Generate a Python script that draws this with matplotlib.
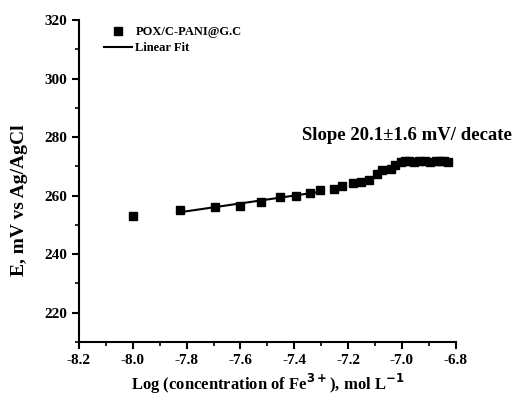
import matplotlib.pyplot as plt
import numpy as np
from matplotlib.ticker import MultipleLocator

# data
log_conc = [-8.00, -7.825, -7.694, -7.602, -7.522, -7.454, -7.393, -7.342, -7.305,
            -7.253, -7.223, -7.183, -7.153, -7.124, -7.094, -7.074, -7.042, -7.024,
            -7.004, -6.990, -6.975, -6.955, -6.935, -6.915, -6.895, -6.875, -6.860,
            -6.845, -6.830]
potential = [252.9, 255.2, 256.0, 256.3, 257.8, 259.5, 260.0, 261.0, 261.9,
             262.3, 263.3, 264.3, 264.7, 265.5, 267.4, 268.8, 269.0, 270.5,
             271.6, 271.9, 272.0, 271.6, 271.7, 271.9, 271.5, 271.8, 271.9,
             271.7, 271.6]

# linear range used for the fit
fit_start, fit_end = 1, 9

plt.rcParams['font.family'] = ['Liberation Serif', 'DejaVu Serif']
plt.rcParams['font.weight'] = 'bold'
plt.rcParams['axes.unicode_minus'] = False

fig = plt.figure(figsize=(5.21, 4.01), dpi=100)
ax = fig.add_axes([0.1516, 0.1471, 0.7231, 0.8029])

ax.plot(log_conc, potential, 's', color='black', markersize=5.5, label='POX/C-PANI@G.C')

xf = np.array(log_conc[fit_start:fit_end])
yf = np.array(potential[fit_start:fit_end])
k, b = np.polyfit(xf, yf, 1)
ax.plot(xf, k * xf + b, '-', color='black', linewidth=1.5, label='Linear Fit')

ax.text(-7.37, 279, 'Slope 20.1\u00b11.6 mV/ decate', fontsize=13.5, fontweight='bold',
        va='baseline', clip_on=False)

ax.set_xlim(-8.2, -6.8)
ax.set_ylim(210, 320)
ax.xaxis.set_major_locator(MultipleLocator(0.2))
ax.xaxis.set_minor_locator(MultipleLocator(0.1))
ax.yaxis.set_major_locator(MultipleLocator(20))
ax.yaxis.set_minor_locator(MultipleLocator(10))
ax.set_yticks([220, 240, 260, 280, 300, 320])

for side in ['top', 'right']:
    ax.spines[side].set_visible(False)
for side in ['left', 'bottom']:
    ax.spines[side].set_linewidth(1.5)

ax.tick_params(which='major', direction='out', length=5, width=1.5, labelsize=11)
ax.tick_params(which='minor', direction='out', length=3, width=1.2)

ax.set_xlabel('Log (concentration of Fe$^{\\mathbf{3+}}$), mol L$^{\\mathbf{-1}}$',
              fontsize=12, fontweight='bold')
ax.set_ylabel('E, mV vs Ag/AgCl', fontsize=14, fontweight='bold')
ax.yaxis.set_label_coords(-0.135, 0.44)

ax.legend(loc='upper left', frameon=False, fontsize=9, handlelength=2.2,
          borderaxespad=0.1, labelspacing=0.3, handletextpad=0.3,
          bbox_to_anchor=(0.05, 1.0))

fig.savefig('out.png', dpi=100)
